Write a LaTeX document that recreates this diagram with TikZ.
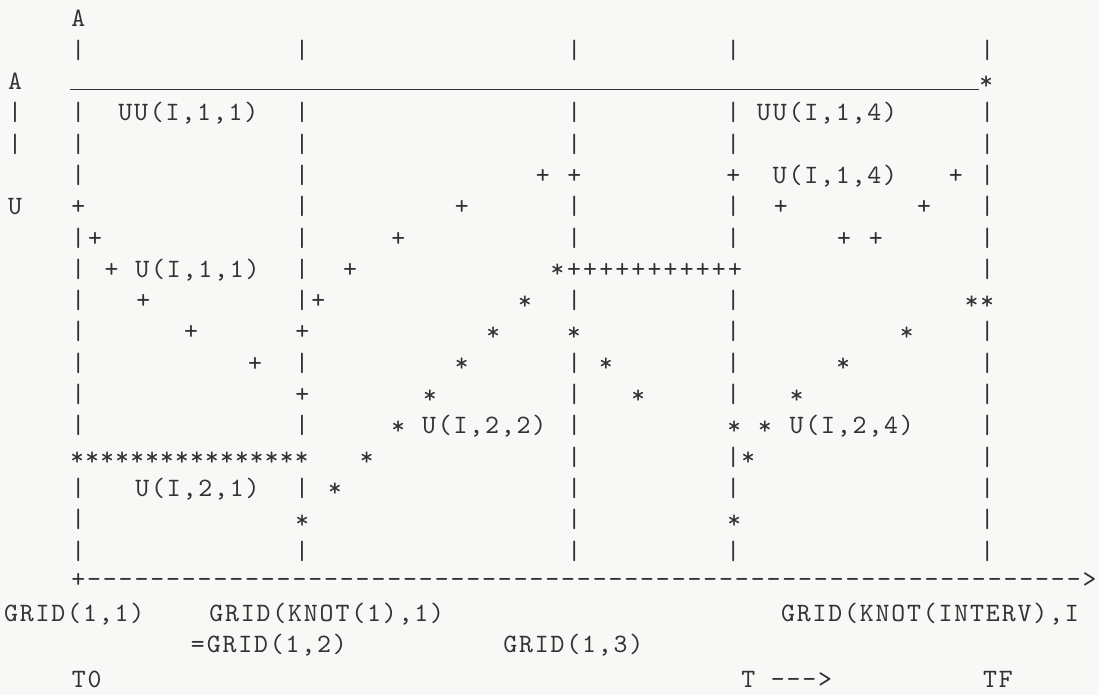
\documentclass[tikz,border=0pt]{standalone}
\usepackage{fontspec}
\newfontfamily\twfont{lmmono10-regular.otf}[LetterSpace=7,Ligatures=TeXOff]
\definecolor{ink}{RGB}{50,50,50}
\definecolor{paper}{RGB}{248,248,246}
\tikzset{
  tw/.style={anchor=base, inner sep=0pt, outer sep=0pt, text=ink,
    font=\twfont\fontsize{26.5pt}{30pt}\selectfont},
  stx/.style={tw, font=\twfont\fontsize{26pt}{30pt}\selectfont},
  rulestyle/.style={draw=ink, line width=1.1pt}
}
\newcommand\ry[1]{26.9+31.3*#1}
\newcommand\stg{\raisebox{-0.5pt}{*}}
\begin{document}
\begin{tikzpicture}[x=1pt,y=-1pt]
\fill[paper] (0,0) rectangle (1099,695);
\useasboundingbox (0,0) rectangle (1099,695);

% --- vertical bars ---
\foreach \r in {1,3,4,5,7,8,9,10,11,12,13,15,16,17}
  \node[tw] (ba\r) at (78.3,{\ry{\r}}) {|};
\foreach \r in {1,3,4,5,6,7,8,9,11,13,15,17}
  \node[tw] (bb\r) at (302.0,{\ry{\r}}) {|};
\foreach \r in {1,3,4,6,7,9,11,12,13,14,15,16,17}
  \node[tw] (bc\r) at (574.2,{\ry{\r}}) {|};
\foreach \r in {1,3,4,6,7,9,10,11,12,14,15,17}
  \node[tw] (bd\r) at (733.3,{\ry{\r}}) {|};
\foreach \r in {1,3,4,5,6,7,8,10,11,12,13,14,15,16,17}
  \node[tw] (be\r) at (987.3,{\ry{\r}}) {|};

% --- left axis labels ---
\node[tw] (atop) at (78.3,{\ry{0}}) {A};
\node[tw] (aleft) at (15,{\ry{2}}) {A};
\node[tw] (lbar3) at (15,{\ry{3}}) {|};
\node[tw] (lbar4) at (15,{\ry{4}}) {|};
\node[tw] (uleft) at (15,{\ry{6}}) {U};

% --- top rule ---
\coordinate (ruleL) at (70,89.3);
\coordinate (ruleR) at (979,89.3);
\draw[rulestyle] (ruleL) -- (ruleR);

% --- labels in boxes ---
\node[tw] (uu11) at (188.3,{\ry{3}}) {UU(I,1,1)};
\node[tw] (uu14) at (827.0,{\ry{3}}) {UU(I,1,4)};
\node[tw] (u14)  at (834.9,{\ry{5}}) {U(I,1,4)};
\node[tw] (u11)  at (197.5,{\ry{8}}) {U(I,1,1)};
\node[tw] (u22)  at (484.2,{\ry{13}}) {U(I,2,2)};
\node[tw] (u24)  at (851.7,{\ry{13}}) {U(I,2,4)};
\node[tw] (u21)  at (197.5,{\ry{15}}) {U(I,2,1)};

% --- plus points ---
\foreach \x/\r [count=\i] in {542.7/5,574.3/5,733.3/5,955.7/5,
  78.3/6,461.7/6,780.7/6,924/6,
  95/7,398.3/7,844/7,875.7/7,
  111.7/8,350/8,
  143.3/9,318.3/9,
  191/10,302.3/10,
  255/11,302.3/12}
  \node[tw] (p\i) at (\x,{\ry{\r}}) {+};
\foreach \i in {0,...,10}
  \node[tw] (pl\i) at ({574+16.1*\i},{\ry{8}}) {+};

% --- star points ---
\foreach \x/\r [count=\i] in {986.3/2,
  557.5/8,
  525/9,971.7/9,987.3/9,
  493.3/10,574/10,906.7/10,
  461.7/11,606/11,843.3/11,
  430/12,638.3/12,796.7/12,
  398.3/13,734.3/13,765/13,
  366.7/14,748.3/14,
  335/15,
  302.3/16,734.3/16}
  \node[stx] (s\i) at (\x,{\ry{\r}}) {\stg};
\foreach \i in {0,...,15}
  \node[stx] (sl\i) at ({77.3+14.96*\i},{\ry{14}}) {\stg};

% --- time axis ---
\node[tw] (ax0) at (78.3,{\ry{18}-3}) {+};
\foreach \i in {1,...,63}
  \node[tw] (ax\i) at ({78.3+15.8*\i},{\ry{18}-3}) {-};
\node[tw] (axend) at ({78.3+15.8*64},{\ry{18}-3}) {>};

% --- bottom labels ---
\node[tw] (g11) at (74.2,{\ry{19}}) {GRID(1,1)};
\node[tw] (gk1) at (326.7,{\ry{19}}) {GRID(KNOT(1),1)};
\node[tw, anchor=base west] (gki) at (781,{\ry{19}}) {GRID(KNOT(INTERV),I};
\node[tw] (g12) at (268.9,{\ry{20}}) {=GRID(1,2)};
\node[tw] (g13) at (573.3,{\ry{20}}) {GRID(1,3)};
\node[tw] (t0) at (86.6,{\ry{21}+3}) {T0};
\node[tw] (tarr) at (786.7,{\ry{21}+3}) {T --->};
\node[tw] (tf) at (998,{\ry{21}+3}) {TF};
\end{tikzpicture}
\end{document}
